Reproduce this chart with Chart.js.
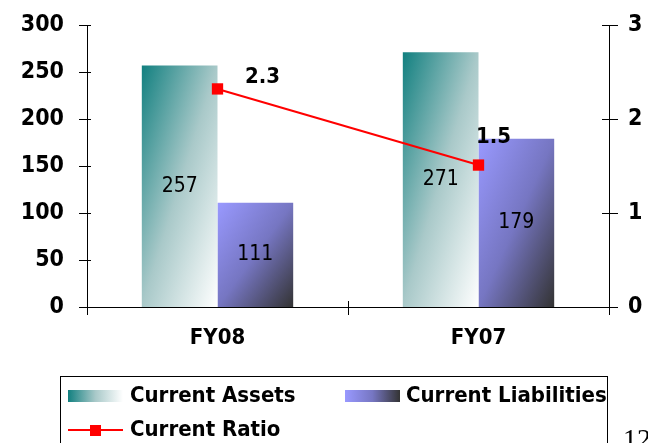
<!DOCTYPE html>
<html>
<head>
<meta charset="utf-8">
<title>Current Ratio</title>
<script src="https://cdn.jsdelivr.net/npm/chart.js@4.4.0/dist/chart.umd.min.js"></script>
<style>
    body { margin: 0; background: #fff; }
    #wrap { width: 648px; height: 443px; overflow: hidden; }
</style>
</head>
<body>
<div id="wrap"><canvas id="ratioChart" width="648" height="443"></canvas></div>
<script>
const years = ['FY08', 'FY07'];
const currentAssets = [257, 271];
const currentLiabilities = [111, 179];
const currentRatio = [2.32, 1.51];
const leftTicks = [0, 50, 100, 150, 200, 250, 300];
const rightTicks = [0, 1, 2, 3];

const FONT = "'DejaVu Sans Condensed', 'DejaVu Sans', sans-serif";
const assetStops = [[0, '#128080'], [0.5, '#a9c9c9'], [1, '#ffffff']];
const liabStops = [[0, '#9999ff'], [0.5, '#7676c2'], [1, '#333333']];
const CAT_PCT = 0.58;

// gradient running corner to corner of a box (top-left -> bottom-right)
function diagGradient(ctx, x0, y0, x1, y1, stops) {
    const w = x1 - x0, h = y1 - y0;
    const k = 2 * w * h / (w * w + h * h);
    const g = ctx.createLinearGradient(x0, y0, x0 + h * k, y0 + w * k);
    stops.forEach(([p, c]) => g.addColorStop(p, c));
    return g;
}

function barFill(stops, side) {
    return context => {
        const chart = context.chart;
        if (!chart.chartArea || context.dataIndex === undefined) return stops[1][1];
        const xs = chart.scales.x, ys = chart.scales.y;
        const cx = xs.getPixelForValue(context.dataIndex);
        const half = xs.width / years.length * CAT_PCT / 2;
        const left = side < 0 ? cx - half : cx;
        const top = ys.getPixelForValue(context.raw);
        const base = ys.getPixelForValue(0);
        return diagGradient(chart.ctx, left, top, left + half, base, stops);
    };
}

// tick marks crossing the axis lines
const axisTicks = {
    id: 'axisTicks',
    afterDraw(chart) {
        const ctx = chart.ctx;
        const { x, y, y1 } = chart.scales;
        ctx.save();
        ctx.strokeStyle = '#000';
        ctx.lineWidth = 1;
        ctx.beginPath();
        y.ticks.forEach((t, i) => {
            const py = Math.round(y.getPixelForTick(i)) + 0.5;
            ctx.moveTo(y.right - 8, py); ctx.lineTo(y.right + 4, py);
        });
        y1.ticks.forEach((t, i) => {
            const py = Math.round(y1.getPixelForTick(i)) + 0.5;
            ctx.moveTo(y1.left - 7, py); ctx.lineTo(y1.left + 9, py);
        });
        const step = x.width / years.length;
        for (let i = 0; i <= years.length; i++) {
            const px = Math.round(x.left + i * step) + 0.5;
            ctx.moveTo(px, x.top - 6); ctx.lineTo(px, x.top + 8);
        }
        ctx.stroke();
        ctx.restore();
    }
};

// values inside bars and ratio labels next to the points
const valueLabels = {
    id: 'valueLabels',
    afterDatasetsDraw(chart) {
        const ctx = chart.ctx;
        ctx.save();
        ctx.fillStyle = '#000';
        ctx.textAlign = 'center';
        ctx.textBaseline = 'middle';
        ctx.font = '21px ' + FONT;
        [0, 1].forEach(d => {
            chart.getDatasetMeta(d).data.forEach((el, i) => {
                ctx.fillText(chart.data.datasets[d].data[i], el.x, (el.y + el.base) / 2);
            });
        });
        const offsets = [[45, -12], [15, -28]];
        ctx.font = 'bold 22px ' + FONT;
        chart.getDatasetMeta(2).data.forEach((el, i) => {
            ctx.fillText(currentRatio[i].toFixed(1), el.x + offsets[i][0], el.y + offsets[i][1]);
        });
        ctx.restore();
    }
};

// boxed legend under the plot
const boxLegend = {
    id: 'boxLegend',
    afterDraw(chart) {
        const ctx = chart.ctx;
        const ds = chart.data.datasets;
        ctx.save();
        ctx.strokeStyle = '#000';
        ctx.lineWidth = 1;
        ctx.strokeRect(60.5, 376.5, 547, 90);

        const swatch = (x, y, stops) => {
            const g = ctx.createLinearGradient(x, y, x + 55, y);
            stops.forEach(([p, c]) => g.addColorStop(p, c));
            ctx.fillStyle = g;
            ctx.fillRect(x, y, 55, 12);
        };
        swatch(68, 390, assetStops);
        swatch(345, 390, liabStops);

        ctx.strokeStyle = '#ff0000';
        ctx.lineWidth = 2;
        ctx.beginPath();
        ctx.moveTo(68, 430); ctx.lineTo(123, 430);
        ctx.stroke();
        ctx.fillStyle = '#ff0000';
        ctx.fillRect(90, 425, 11, 11);

        ctx.fillStyle = '#000';
        ctx.textBaseline = 'middle';
        ctx.textAlign = 'left';
        ctx.font = 'bold 22px ' + FONT;
        ctx.fillText(ds[0].label, 130, 396);
        ctx.fillText(ds[1].label, 406, 396);
        ctx.fillText(ds[2].label, 130, 430);

        // page number peeking in at the corner
        ctx.textBaseline = 'alphabetic';
        ctx.font = '28px "Liberation Serif", serif';
        ctx.fillText('12', 623, 448);
        ctx.restore();
    }
};

new Chart(document.getElementById('ratioChart'), {
    type: 'bar',
    data: {
        labels: years,
        datasets: [
            {
                label: 'Current Assets',
                data: currentAssets,
                yAxisID: 'y',
                order: 1,
                backgroundColor: barFill(assetStops, -1),
                categoryPercentage: CAT_PCT,
                barPercentage: 1.0
            },
            {
                label: 'Current Liabilities',
                data: currentLiabilities,
                yAxisID: 'y',
                order: 1,
                backgroundColor: barFill(liabStops, 1),
                categoryPercentage: CAT_PCT,
                barPercentage: 1.0
            },
            {
                type: 'line',
                label: 'Current Ratio',
                data: currentRatio,
                yAxisID: 'y1',
                order: 0,
                borderColor: '#ff0000',
                backgroundColor: '#ff0000',
                borderWidth: 2,
                pointStyle: 'rect',
                pointRadius: 8,
                pointBorderWidth: 0,
                tension: 0
            }
        ]
    },
    options: {
        responsive: false,
        animation: false,
        layout: { padding: { top: 25, bottom: 86, left: 0, right: 0 } },
        plugins: {
            legend: { display: false },
            tooltip: { enabled: false }
        },
        scales: {
            x: {
                grid: { display: false, drawTicks: false },
                border: { display: true, color: '#000', width: 1 },
                ticks: {
                    color: '#000',
                    padding: 18,
                    font: { family: FONT, size: 22, weight: 'bold' }
                },
                afterFit: s => { s.height = 50; }
            },
            y: {
                position: 'left',
                min: leftTicks[0],
                max: leftTicks[leftTicks.length - 1],
                afterBuildTicks: s => { s.ticks = leftTicks.map(v => ({ value: v })); },
                grid: { display: false, drawTicks: false },
                border: { display: true, color: '#000', width: 1 },
                ticks: {
                    color: '#000',
                    padding: 23,
                    font: { family: FONT, size: 23, weight: 'bold' }
                },
                afterFit: s => { s.width = 87; s.paddingTop = 12; s.paddingBottom = 12; }
            },
            y1: {
                position: 'right',
                min: rightTicks[0],
                max: rightTicks[rightTicks.length - 1],
                afterBuildTicks: s => { s.ticks = rightTicks.map(v => ({ value: v })); },
                grid: { display: false, drawTicks: false },
                border: { display: true, color: '#000', width: 1 },
                ticks: {
                    color: '#000',
                    padding: 19,
                    font: { family: FONT, size: 23, weight: 'bold' }
                },
                afterFit: s => { s.width = 39; s.paddingTop = 12; s.paddingBottom = 12; }
            }
        }
    },
    plugins: [axisTicks, valueLabels, boxLegend]
});
</script>
</body>
</html>
